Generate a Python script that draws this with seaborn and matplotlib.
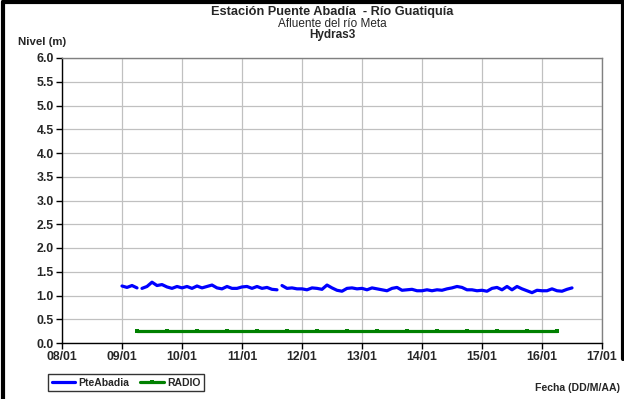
import numpy as np
import pandas as pd
import matplotlib
matplotlib.use("Agg")
import matplotlib.pyplot as plt
import matplotlib.dates as mdates
from matplotlib.lines import Line2D
import seaborn as sns

# ---------------- data ----------------
blue_start = "2024-01-09 00:00"
blue_step_hours = 2
# PteAbadia level (m), every 2 h from 09/01 00h
pte_abadia = [
    1.20, 1.17, 1.21, 1.16, 1.15, 1.19, 1.28, 1.21, 1.23, 1.18, 1.15, 1.19,   # 09/01
    1.16, 1.19, 1.15, 1.20, 1.16, 1.19, 1.22, 1.16, 1.14, 1.19, 1.15, 1.15,   # 10/01
    1.18, 1.19, 1.15, 1.19, 1.15, 1.17, 1.13, 1.12, 1.21, 1.15, 1.16, 1.14,   # 11/01
    1.14, 1.12, 1.16, 1.15, 1.13, 1.22, 1.16, 1.11, 1.09, 1.15, 1.16, 1.14,   # 12/01
    1.15, 1.12, 1.16, 1.14, 1.12, 1.10, 1.15, 1.17, 1.11, 1.12, 1.13, 1.10,   # 13/01
    1.10, 1.12, 1.10, 1.12, 1.11, 1.14, 1.16, 1.19, 1.17, 1.12, 1.12, 1.10,   # 14/01
    1.11, 1.09, 1.15, 1.17, 1.12, 1.19, 1.12, 1.19, 1.14, 1.10, 1.06, 1.11,   # 15/01
    1.10, 1.10, 1.14, 1.10, 1.09, 1.13, 1.16,                                 # 16/01
]
# gaps in the record (line is broken at these instants)
pte_gaps = ["2024-01-09 07:00", "2024-01-11 15:00"]

radio_start = "2024-01-09 06:00"
radio_step_hours = 12
radio = [0.25] * 15

x_ticks = pd.date_range("2024-01-08", "2024-01-17", freq="D")
y_ticks = np.arange(0, 6.01, 0.5)

title1 = "Estación Puente Abadía  - Río Guatiquía"
title2 = "Afluente del río Meta"
title3 = "Hydras3"

# ---------------- frames ----------------
t_blue = pd.date_range(blue_start, periods=len(pte_abadia), freq=f"{blue_step_hours}h")
df_blue = pd.DataFrame({"t": t_blue, "v": pte_abadia})
df_blue["seg"] = sum((df_blue["t"] > pd.Timestamp(g)).astype(int) for g in pte_gaps)

t_radio = pd.date_range(radio_start, periods=len(radio), freq=f"{radio_step_hours}h")
df_radio = pd.DataFrame({"t": t_radio, "v": radio})

# ---------------- plot ----------------
sns.set_style("white")
plt.rcParams["font.family"] = ["Liberation Sans", "DejaVu Sans"]

fig = plt.figure(figsize=(6.24, 3.99), dpi=100)
ax = fig.add_axes([62 / 624, 1 - 343 / 399, 540 / 624, 285 / 399])

BLUE = "#0000FF"
GREEN = "#008000"

sns.lineplot(data=df_blue, x="t", y="v", units="seg", estimator=None,
             color=BLUE, linewidth=2.3, ax=ax, legend=False)
sns.lineplot(data=df_radio, x="t", y="v", color=GREEN, linewidth=2.3,
             marker="s", markersize=2.8, markeredgewidth=0, ax=ax, legend=False)

ax.set_xlim(x_ticks[0], x_ticks[-1])
ax.set_ylim(0, 6)
ax.set_xticks(x_ticks)
ax.xaxis.set_major_formatter(mdates.DateFormatter("%d/%m"))
ax.set_yticks(y_ticks)
ax.set_yticklabels([f"{v:.1f}" for v in y_ticks])
ax.set_xlabel("")
ax.set_ylabel("")

ax.grid(True, color="#c0c0c0", linewidth=0.9)
ax.set_axisbelow(True)
for s in ["left", "bottom"]:
    ax.spines[s].set_color("black")
    ax.spines[s].set_linewidth(1.0)
for s in ["top", "right"]:
    ax.spines[s].set_color("#808080")
    ax.spines[s].set_linewidth(1.0)

ax.tick_params(axis="both", which="major", direction="out", length=4, width=1,
               color="black", labelsize=8.8, pad=2, left=True, bottom=True)
for lab in ax.get_xticklabels() + ax.get_yticklabels():
    lab.set_fontweight("bold")

# titles
cx = (62 + 602) / 2 / 624
fig.text(cx, 1 - 12 / 399, title1, ha="center", va="center", fontsize=9.2, fontweight="bold")
fig.text(cx, 1 - 24 / 399, title2, ha="center", va="center", fontsize=8.5)
fig.text(cx, 1 - 35 / 399, title3, ha="center", va="center", fontsize=8.5, fontweight="bold")
fig.text(18 / 624, 1 - 42 / 399, "Nivel (m)", ha="left", va="center", fontsize=8.2, fontweight="bold")
fig.text(620 / 624, 1 - 388 / 399, "Fecha (DD/M/AA)", ha="right", va="center", fontsize=7.6, fontweight="bold")

# legend
handles = [Line2D([], [], color=BLUE, lw=2.3, label="PteAbadia"),
           Line2D([], [], color=GREEN, lw=2.3, marker="s", markersize=2.8,
                  markeredgewidth=0, label="RADIO")]
leg = fig.legend(handles=handles, loc="center", bbox_to_anchor=(126 / 624, 1 - 382.5 / 399),
                 ncol=2, frameon=True, fancybox=False, edgecolor="black",
                 prop={"weight": "bold", "size": 7.5}, handlelength=2.3,
                 handletextpad=0.3, columnspacing=1.0, borderpad=0.35)
leg.get_frame().set_linewidth(1.0)

# outer frame (left, top, right)
for xs, ys in [([2.5 / 624, 2.5 / 624], [0, 1 - 1.5 / 399]),
               ([2.5 / 624, 622.5 / 624], [1 - 1.5 / 399, 1 - 1.5 / 399]),
               ([622.5 / 624, 622.5 / 624], [0.1, 1 - 1.5 / 399])]:
    fig.add_artist(Line2D(xs, ys, color="black", lw=3, transform=fig.transFigure))

fig.savefig("out.png", dpi=100)
